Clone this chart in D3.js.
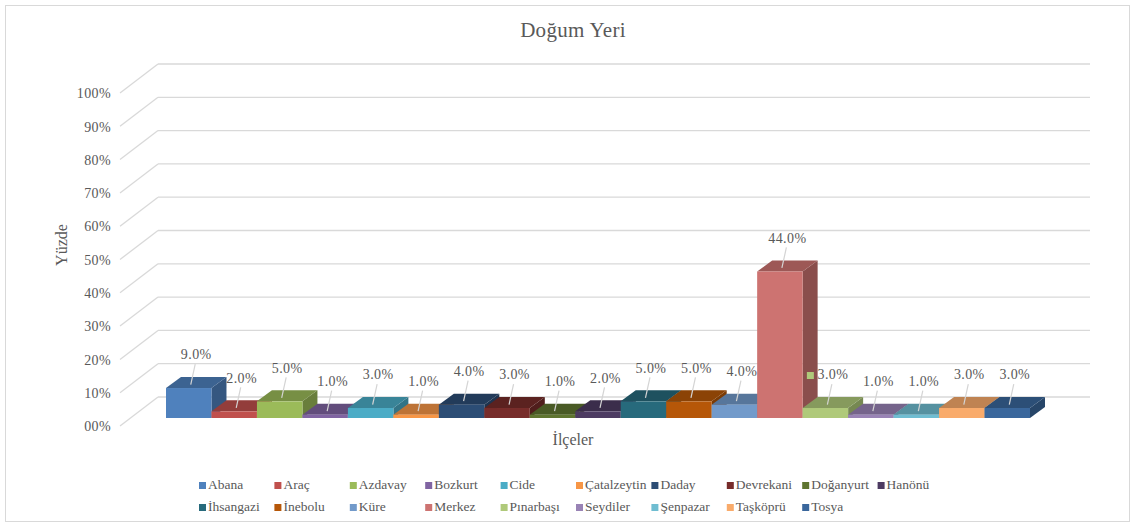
<!DOCTYPE html>
<html>
<head>
<meta charset="utf-8">
<script src="https://cdn.jsdelivr.net/npm/d3@7"></script>
<style>
  body { margin: 0; background: #fff; }
  svg text { font-family: 'Liberation Serif', 'Times New Roman', serif; fill: #595959; }
</style>
</head>
<body>
<div id="chart"><svg></svg></div>
<script>
const categories = ['Abana', 'Araç', 'Azdavay', 'Bozkurt', 'Cide', 'Çatalzeytin', 'Daday', 'Devrekani', 'Doğanyurt', 'Hanönü',
  'İhsangazi', 'İnebolu', 'Küre', 'Merkez', 'Pınarbaşı', 'Seydiler', 'Şenpazar', 'Taşköprü', 'Tosya'];
const values = [9, 2, 5, 1, 3, 1, 4, 3, 1, 2, 5, 5, 4, 44, 3, 1, 1, 3, 3];
const colors = ['#4f81bd', '#c0504d', '#9bbb59', '#8064a2', '#4bacc6', '#f79646', '#2c4d75', '#772c2a', '#5f7530', '#4d3b62',
  '#276a7c', '#b65708', '#729aca', '#cd7371', '#afc97a', '#9983b5', '#6fbdd1', '#f9ab6b', '#3a679c'];
const yTicks = [0, 10, 20, 30, 40, 50, 60, 70, 80, 90, 100];

const W = 1136, H = 524;
const svg = d3.select('#chart svg').attr('width', W).attr('height', H);

// chart frame
svg.append('rect')
  .attr('x', 5.5).attr('y', 5.5).attr('width', W - 12).attr('height', H - 8)
  .attr('fill', '#fff').attr('stroke', '#d9d9d9');

// title
svg.append('text')
  .attr('x', 573).attr('y', 37)
  .attr('text-anchor', 'middle').attr('font-size', '21px')
  .attr('letter-spacing', '0.3px')
  .text('Doğum Yeri');

// back wall scale + wall depth offsets
const yBack = d3.scaleLinear().domain([0, 100]).range([397, 64]);
const wallX0 = 158, wallX1 = 1090;
const wallDx = -38, wallDy = 29;

const grid = svg.append('g').attr('stroke', '#d9d9d9').attr('stroke-width', 1.3).attr('fill', 'none');
yTicks.forEach(t => {
  grid.append('line')
    .attr('x1', wallX0).attr('x2', wallX1)
    .attr('y1', yBack(t)).attr('y2', yBack(t));
  grid.append('line')
    .attr('x1', wallX0 + wallDx).attr('y1', yBack(t) + wallDy)
    .attr('x2', wallX0).attr('y2', yBack(t));
});

// tick labels on the front edge
svg.append('g').selectAll('text')
  .data(yTicks).join('text')
  .attr('x', 111).attr('y', d => yBack(d) + wallDy + 2)
  .attr('text-anchor', 'end').attr('dominant-baseline', 'middle')
  .attr('font-size', '14px').attr('letter-spacing', '0.4px')
  .text(d => d3.format('02d')(d) + '%');

// axis titles
svg.append('text')
  .attr('transform', 'translate(67,245) rotate(-90)')
  .attr('text-anchor', 'middle').attr('font-size', '16px')
  .text('Yüzde');
svg.append('text')
  .attr('x', 573).attr('y', 445)
  .attr('text-anchor', 'middle').attr('font-size', '16px')
  .text('İlçeler');

// bars
const x = d3.scaleBand().domain(categories).range([166, 1030]).padding(0);
const yBar = d3.scaleLinear().domain([0, 100]).range([418, 85]);
const dx = 15, dy = -11;
const bw = x.bandwidth();

const bars = svg.append('g').selectAll('g')
  .data(categories).join('g');

bars.each(function(c, i) {
  const g = d3.select(this);
  const x0 = x(c), x1 = x0 + bw;
  const y0 = yBar(0), yt = yBar(values[i]);
  const col = d3.color(colors[i]);
  // side
  g.append('path')
    .attr('d', `M${x1},${y0}L${x1 + dx},${y0 + dy}L${x1 + dx},${yt + dy}L${x1},${yt}Z`)
    .attr('fill', col.darker(1.1));
  // top
  g.append('path')
    .attr('d', `M${x0},${yt}L${x1},${yt}L${x1 + dx},${yt + dy}L${x0 + dx},${yt + dy}Z`)
    .attr('fill', col.darker(0.75));
  // front
  g.append('rect')
    .attr('x', x0).attr('y', yt).attr('width', bw).attr('height', y0 - yt)
    .attr('fill', col);
});

// data labels with leader lines
const labels = svg.append('g');
categories.forEach((c, i) => {
  const cx = x(c) + bw / 2;
  const yt = yBar(values[i]);
  const lx = cx + dx / 2;
  const ly = yt + dy - 21;
  labels.append('line')
    .attr('x1', lx - 1).attr('y1', ly + 8)
    .attr('x2', cx + 2).attr('y2', yt + dy / 2 + 2)
    .attr('stroke', '#d4d4d4').attr('stroke-width', 1.2);
  labels.append('text')
    .attr('x', lx).attr('y', ly)
    .attr('text-anchor', 'middle').attr('dominant-baseline', 'middle')
    .attr('font-size', '14px').attr('letter-spacing', '0.4px')
    .text(d3.format('.1f')(values[i]) + '%');
  if (c === 'Pınarbaşı') {
    labels.append('rect')
      .attr('x', lx - 26).attr('y', ly - 4).attr('width', 7).attr('height', 7)
      .attr('fill', colors[i]);
  }
});

// legend
const legend = svg.append('g');
const perRow = 10, colW = 75.4;
categories.forEach((c, i) => {
  const lx = 199 + (i % perRow) * colW;
  const ly = 486 + Math.floor(i / perRow) * 22;
  legend.append('rect')
    .attr('x', lx).attr('y', ly - 4).attr('width', 7).attr('height', 7)
    .attr('fill', colors[i]);
  legend.append('text')
    .attr('x', lx + 9).attr('y', ly)
    .attr('dominant-baseline', 'middle')
    .attr('font-size', '13.5px')
    .text(c);
});
</script>
</body>
</html>
